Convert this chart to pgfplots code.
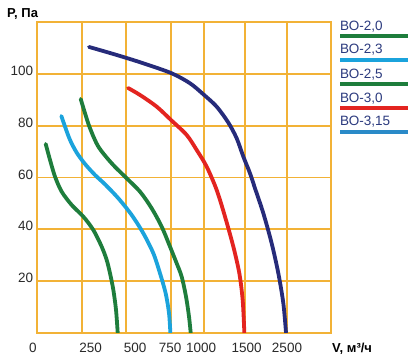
\documentclass[border=0pt]{standalone}
\usepackage{fontspec}
\setmainfont{Liberation Sans}
\usepackage{pgfplots}
\pgfplotsset{compat=1.18}
\definecolor{gridc}{HTML}{F2B236}
\definecolor{cgreen}{HTML}{1E7D3C}
\definecolor{clblue}{HTML}{1BA3DC}
\definecolor{cred}{HTML}{E32420}
\definecolor{cnavy}{HTML}{262B7A}
\definecolor{cmblue}{HTML}{2A8AC8}
\definecolor{tickc}{HTML}{2A2A2A}
\definecolor{legc}{HTML}{2B3A7E}

\pgfplotstableread{
x y
27 72.96
40 66.77
55 60.32
75 54.52
105 49.37
140 44.86
170 39.70
195 33.26
210 28.10
220 22.94
230 16.50
238 8.77
243 0
}\bogreena

\pgfplotstableread{
x y
74 83.78
85 79.66
100 74.50
120 69.61
145 65.22
175 60.97
205 57.36
245 51.95
285 45.50
320 38.41
350 30.68
370 22.94
387 15.21
397 7.48
401 0
}\boblue

\pgfplotstableread{
x y
132 90.36
145 84.82
160 79.02
185 71.93
225 65.48
265 60.32
310 54.52
345 48.08
375 40.99
400 33.26
420 26.81
435 21.66
448 13.92
457 6.19
462 0
}\bogreenb

\pgfplotstableread{
x y
274 94.61
310 91.90
360 87.39
405 81.98
450 76.44
480 70.64
510 64.19
540 55.17
565 44.86
590 33.26
608 22.94
618 12.63
623 0
}\bored

\pgfplotstableread{
x y
157 110.47
240 107.37
320 104.15
405 100.28
460 96.42
500 92.16
540 87.39
575 81.21
600 75.15
620 68.06
640 61.61
655 55.81
680 46.15
705 34.54
725 22.94
740 11.34
748 0
}\bonavy

\begin{document}
\begin{tikzpicture}[x=1pt,y=1pt]
\useasboundingbox (0,0) rectangle (412,357);
\fill[white] (0,0) rectangle (412,357);
\begin{axis}[
  at={(36.7pt,24.3pt)}, anchor=south west,
  width=294.3pt, height=310.4pt, scale only axis,
  xmin=0, xmax=883, ymin=0, ymax=120,
  axis line style={gridc, line width=1.9pt},
  major grid style={gridc, line width=1.9pt},
  ymajorgrids=true, xmajorgrids=false,
  xtick={0,162,295,400,493,630,751},
  xticklabels={\llap{0},250,500,750,1000,1500,2500},
  extra x ticks={135,268,402,502,625,750},
  extra x tick labels={},
  extra x tick style={xmajorgrids=true, major tick length=0pt},
  ytick={20,40,60,80,100},
  major tick length=0pt,
  tick label style={font=\fontsize{13.5}{16}\selectfont, text=tickc},
  /pgf/number format/assume math mode=true,
  xticklabel style={anchor=base, yshift=-19.3pt},
  yticklabel style={anchor=base east, yshift=-1.5pt},
  every axis plot/.append style={line width=3.8pt, line cap=round, smooth, no markers},
]
\addplot[cgreen] table {\bogreena};
\addplot[clblue] table {\boblue};
\addplot[cgreen] table {\bogreenb};
\addplot[cred] table {\bored};
\addplot[cnavy] table {\bonavy};
\end{axis}
% axis titles
\node[anchor=base west, inner sep=0] at (7,339.7) {\fontsize{13}{15}\selectfont\bfseries P, Па};
\node[anchor=base west, inner sep=0] at (332,5) {\fontsize{13}{15}\selectfont\bfseries V, м³/ч};
% legend
\begin{scope}[every node/.style={anchor=base west, inner sep=0, text=legc, font=\fontsize{13.5}{16}\selectfont}]
\node at (340,326.6) {ВО-2,0};
\node at (340,303) {ВО-2,3};
\node at (340,279) {ВО-2,5};
\node at (340,255) {ВО-3,0};
\node at (340,231.3) {ВО-3,15};
\end{scope}
\draw[cgreen, line width=4pt] (340,321) -- (407.5,321);
\draw[clblue, line width=4pt] (340,297) -- (407.5,297);
\draw[cgreen, line width=4pt] (340,273) -- (407.5,273);
\draw[cred, line width=4pt] (340,249.3) -- (407.5,249.3);
\draw[cmblue, line width=4pt] (340,225) -- (407.5,225);
\end{tikzpicture}
\end{document}
